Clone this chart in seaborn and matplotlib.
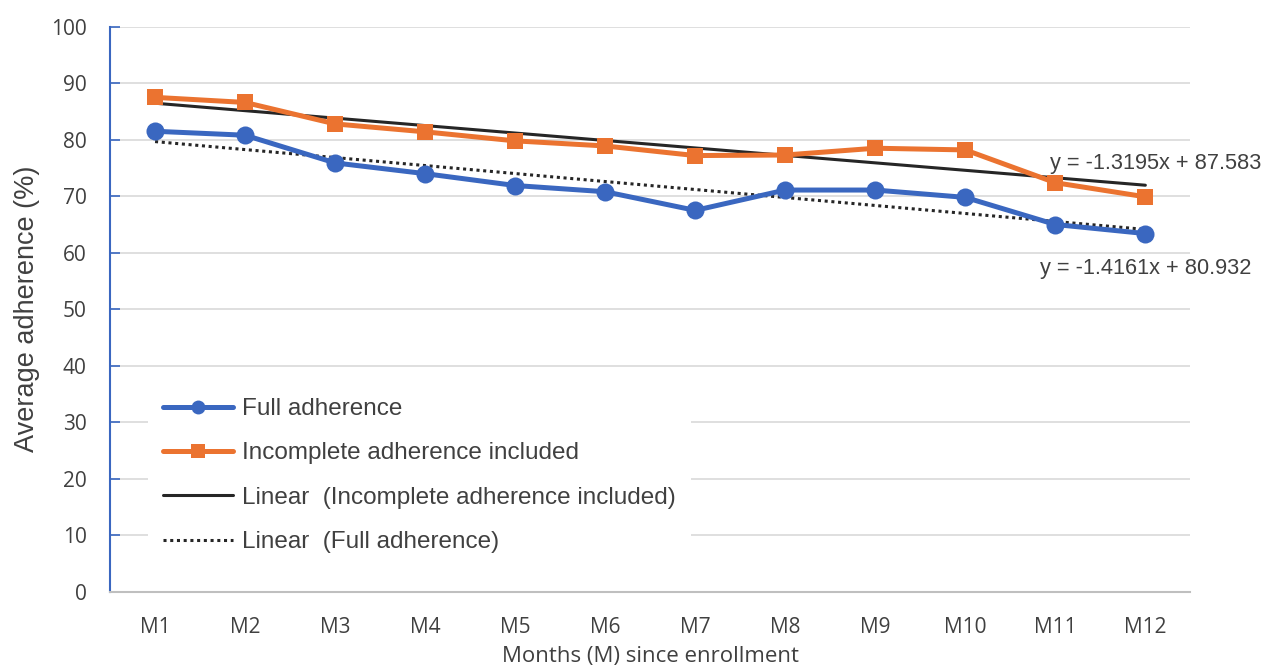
import numpy as np
import pandas as pd
import matplotlib
matplotlib.use("Agg")
import matplotlib.pyplot as plt
import seaborn as sns
from matplotlib.lines import Line2D

# ---------------------------------------------------
# Data
# ---------------------------------------------------
months = ["M1", "M2", "M3", "M4", "M5", "M6", "M7", "M8", "M9", "M10", "M11", "M12"]
full_adherence = [81.5, 80.8, 75.9, 74.0, 71.9, 70.8, 67.5, 71.1, 71.1, 69.8, 65.0, 63.4]
incomplete_included = [87.5, 86.6, 82.8, 81.4, 79.8, 78.9, 77.2, 77.3, 78.5, 78.2, 72.4, 69.9]
eq_incomplete = "y = -1.3195x + 87.583"
eq_full = "y = -1.4161x + 80.932"

BLUE = "#3A67C0"
ORANGE = "#EB7330"
DARK = "#262626"
TEXT = "#404040"

df = pd.DataFrame({
    "pos": np.arange(len(months)),
    "month": months,
    "full": full_adherence,
    "incomplete": incomplete_included,
})

sns.set_style("white")
plt.rcParams["font.family"] = ["Liberation Sans", "DejaVu Sans"]

fig = plt.figure(figsize=(12.65, 6.68), dpi=100)
ax = fig.add_axes([0.087, 0.114, 0.854, 0.846])

# gridlines
ax.set_axisbelow(True)
ax.yaxis.grid(True, color="#D9D9D9", linewidth=1.2)

# trendlines (linear regressions, drawn first so series sit over them)
sns.regplot(data=df, x="pos", y="incomplete", ax=ax, ci=None, scatter=False,
            line_kws=dict(color=DARK, lw=2.2, zorder=3))
sns.regplot(data=df, x="pos", y="full", ax=ax, ci=None, scatter=False,
            line_kws=dict(color=DARK, lw=2.2, ls=(0, (1, 1.2)), zorder=3))

# series
sns.lineplot(data=df, x="pos", y="full", ax=ax, color=BLUE, lw=3.6,
             marker="o", markersize=13, markeredgewidth=0, zorder=4)
sns.lineplot(data=df, x="pos", y="incomplete", ax=ax, color=ORANGE, lw=3.6,
             marker="s", markersize=12, markeredgewidth=0, zorder=4)

# equation labels
ax.text(9.94, 75.8, eq_incomplete, fontsize=15.7, color=TEXT, ha="left", va="center")
ax.text(9.83, 57.3, eq_full, fontsize=15.7, color=TEXT, ha="left", va="center")

ax.set_xlim(-0.5, len(months) - 0.5)
ax.set_ylim(0, 100)
ax.set_yticks(range(0, 101, 10))
ax.set_xticks(df["pos"])
ax.set_xticklabels(months)

tick_font = ["Open Sans", "DejaVu Sans"]
for lab in ax.get_xticklabels() + ax.get_yticklabels():
    lab.set_family(tick_font)
    lab.set_fontsize(15)
    lab.set_color(TEXT)

ax.tick_params(axis="x", direction="in", length=5, color="#BFBFBF", pad=18)
ax.tick_params(axis="y", direction="in", length=7, color=BLUE, width=1.2, pad=17, left=True)

for side in ["top", "right"]:
    ax.spines[side].set_visible(False)
ax.spines["left"].set_color(BLUE)
ax.spines["left"].set_linewidth(1.5)
ax.spines["bottom"].set_color("#BFBFBF")
ax.spines["bottom"].set_linewidth(1.5)

ax.set_xlabel("Months (M) since enrollment", fontsize=16, color=TEXT, labelpad=6,
              family=tick_font)
ax.set_ylabel("Average adherence (%)", fontsize=19.5, color=TEXT, labelpad=8)

handles = [
    Line2D([], [], color=BLUE, lw=3.6, marker="o", markersize=10, markeredgewidth=0),
    Line2D([], [], color=ORANGE, lw=3.6, marker="s", markersize=10, markeredgewidth=0),
    Line2D([], [], color=DARK, lw=2.2),
    Line2D([], [], color=DARK, lw=2.2, ls=(0, (1, 1.2))),
]
labels = [
    "Full adherence",
    "Incomplete adherence included",
    "Linear  (Incomplete adherence included)",
    "Linear  (Full adherence)",
]
leg = ax.legend(handles, labels, loc="lower left", bbox_to_anchor=(0.024, 0.021),
                frameon=True, facecolor="white", edgecolor="none", framealpha=1,
                fontsize=17.5, handlelength=2.9, handletextpad=0.37, labelspacing=0.92,
                borderpad=0.6)
for t in leg.get_texts():
    t.set_color(TEXT)

fig.savefig("out.png", dpi=100)
